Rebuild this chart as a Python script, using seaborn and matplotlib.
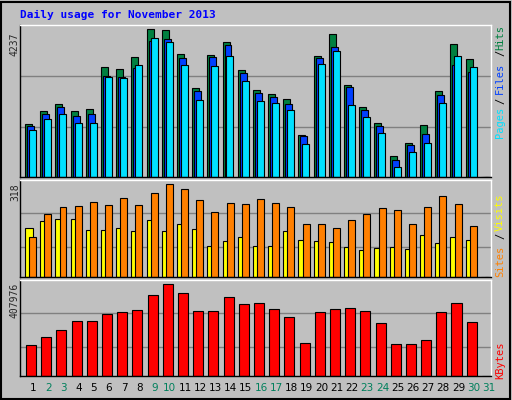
import numpy as np
import matplotlib
matplotlib.use("Agg")
import matplotlib.pyplot as plt
import seaborn as sns
from matplotlib.patches import Rectangle

# ---- data ----
days = list(range(1, 32))
hits = [1534, 1879, 2080, 1879, 1946, 3144, 3087, 3432, 4237, 4208, 3518, 2540, 3489, 3863, 3058,
        2483, 2368, 2224, 1217, 3461, 4093, 2627, 1994, 1563, 614, 987, 1505, 2454, 3806, 3374, 0]
files = [1476, 1821, 1994, 1764, 1793, 2885, 2857, 3115, 3892, 3949, 3403, 2454, 3432, 3777, 2972,
         2397, 2281, 2080, 1189, 3403, 3719, 2569, 1936, 1476, 498, 930, 1246, 2339, 3202, 3000, 0]
pages = [1361, 1678, 1821, 1563, 1563, 2857, 2828, 3202, 3978, 3863, 3202, 2195, 3173, 3461, 2742,
         2166, 2109, 1908, 959, 3230, 3604, 2051, 1735, 1275, 297, 729, 987, 2109, 3461, 3144, 0]
sites = [169, 190, 197, 197, 162, 162, 169, 156, 194, 156, 183, 166, 107, 124, 138,
         107, 107, 156, 128, 124, 121, 104, 93, 100, 104, 97, 145, 118, 138, 128, 0]
visits = [138, 214, 238, 242, 256, 245, 270, 245, 287, 318, 301, 263, 221, 252, 249,
          266, 252, 238, 183, 183, 169, 194, 214, 235, 228, 183, 238, 276, 249, 176, 0]
kbytes = [138942, 174798, 206172, 242028, 242028, 273402, 282366, 291330, 358560, 407976, 367524,
          286848, 286848, 349596, 318222, 322704, 295812, 259956, 147906, 282366, 295812, 300294,
          286848, 233064, 143424, 143424, 161352, 282366, 322704, 237546, 0]
weekend = [2, 3, 9, 10, 16, 17, 23, 24, 30, 31]

sns.set_style("white")
plt.rcParams["font.family"] = ["DejaVu Sans Mono"]

BG = "#C0C0C0"
W, H = 512, 400
fig = plt.figure(figsize=(W / 100, H / 100), dpi=100, facecolor=BG)
fig.patches.append(Rectangle((0.002, 0.002), 0.994, 0.994, transform=fig.transFigure,
                             fill=False, edgecolor="black", lw=1.5))


def panel(top, bottom):
    ax = fig.add_axes([20 / W, 1 - bottom / H, 471 / W, (bottom - top) / H])
    ax.set_facecolor(BG)
    ax.set_xlim(-0.5, 30.5)
    ax.set_xticks([])
    ax.set_yticks([])
    for s in ax.spines.values():
        s.set_color("black")
        s.set_linewidth(1)
    ax.spines["top"].set_color("white")
    ax.spines["right"].set_color("white")
    return ax


x = np.arange(len(days))
kw = dict(edgecolor="black", linewidth=0.8, align="edge")

# hits / files / pages
ax1 = panel(25, 177)
ax1.set_ylim(0, 4360)
for g in (1420, 2885):
    ax1.axhline(g, color="#808080", lw=1, zorder=0)
ax1.bar(x - 0.17, hits, 0.46, color="#008040", **kw)
ax1.bar(x - 0.04, files, 0.46, color="#0040FF", **kw)
ax1.bar(x + 0.09, pages, 0.46, color="#00E0FF", **kw)

# sites / visits
ax2 = panel(180, 277)
ax2.set_ylim(0, 332)
for g in (104, 218):
    ax2.axhline(g, color="#808080", lw=1, zorder=0)
ax2.bar(x - 0.17, sites, 0.5, color="#FFFF00", **kw)
ax2.bar(x + 0.1, visits, 0.46, color="#FF8000", **kw)

# kbytes
ax3 = panel(280, 376)
ax3.set_ylim(0, 425790)
for g in (130000, 277884):
    ax3.axhline(g, color="#808080", lw=1, zorder=0)
ax3.bar(x - 0.1, kbytes, 0.66, color="#FF0000", **kw)

# day labels
for i, d in enumerate(days):
    ax3.text(i + 0.36, -0.13, str(d), transform=ax3.get_xaxis_transform(), ha="center", va="center",
             fontsize=7.5, color="#00805C" if d in weekend else "black", family="DejaVu Sans")

# title and max labels
fig.text(20 / W, 1 - 15 / H, "Daily usage for November 2013", color="#0000FF",
         fontsize=8, fontweight="bold", va="center")
fig.text(15 / W, 1 - 44 / H, "4237", rotation=90, fontsize=7, ha="center", va="center")
fig.text(15 / W, 1 - 192 / H, "318", rotation=90, fontsize=7, ha="center", va="center")
fig.text(15 / W, 1 - 300 / H, "407976", rotation=90, fontsize=7, ha="center", va="center")

# right-hand legends
def rlabel(y, s, c):
    fig.text(500 / W, 1 - y / H, s, rotation=90, fontsize=7.5, color=c, ha="center", va="center")

rlabel(37, "Hits", "#008040")
rlabel(53, "/", "black")
rlabel(78, "Files", "#0040FF")
rlabel(101, "/", "black")
rlabel(122, "Pages", "#00E0FF")
rlabel(212, "Visits", "#FFFF00")
rlabel(236, "/", "black")
rlabel(261, "Sites", "#FF8000")
rlabel(360, "KBytes", "#FF0000")

fig.savefig("out.png", dpi=100, facecolor=BG)
